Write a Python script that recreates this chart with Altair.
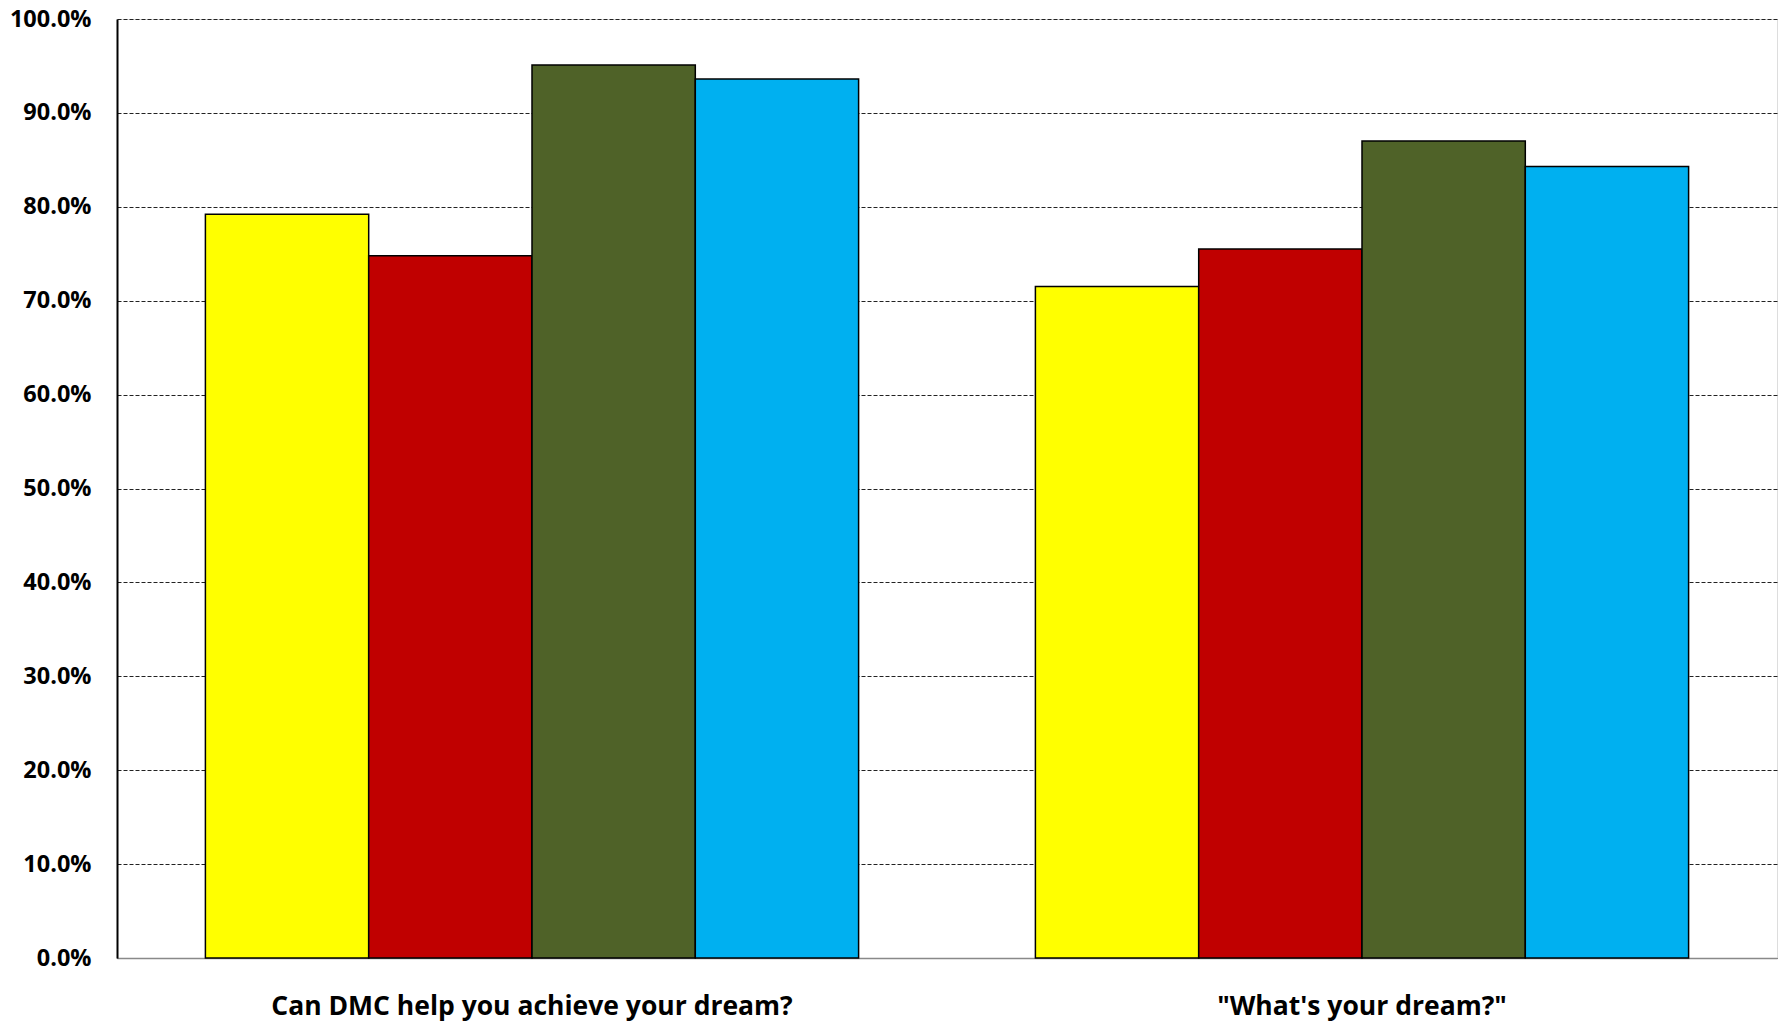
import altair as alt
import pandas as pd

questions = ["Can DMC help you achieve your dream?", "\"What's your dream?\""]
series = ["Series 1", "Series 2", "Series 3", "Series 4"]
colors = ["#FFFF00", "#C00000", "#4F6228", "#00B0F0"]
values = {
    "Series 1": [0.792, 0.715],
    "Series 2": [0.748, 0.755],
    "Series 3": [0.951, 0.870],
    "Series 4": [0.936, 0.843],
}

rows = []
for s in series:
    for q, v in zip(questions, values[s]):
        rows.append({"question": q, "series": s, "value": v})
df = pd.DataFrame(rows)

FONT = "Open Sans"

chart = alt.Chart(df).mark_bar(stroke="black", strokeWidth=1.5).encode(
    x=alt.X("question:N", sort=questions, title=None,
            scale=alt.Scale(paddingInner=0.213, paddingOuter=0.1065),
            axis=alt.Axis(labelAngle=0, ticks=False, labelFont=FONT, labelFontWeight="bold",
                          labelFontSize=26.5, labelColor="black", labelPadding=35, labelLimit=0,
                          domainColor="#898989", domainWidth=1.5, grid=False)),
    xOffset=alt.XOffset("series:N", sort=series),
    y=alt.Y("value:Q", title=None,
            scale=alt.Scale(domain=[0, 1], nice=False),
            axis=alt.Axis(format=".1%", values=[i / 10 for i in range(11)], ticks=False,
                          labelFont=FONT, labelFontWeight="bold", labelFontSize=23.5,
                          labelColor="black", labelPadding=26, labelLimit=0,
                          domainColor="black", domainWidth=2,
                          grid=True, gridColor="#222222", gridDash=[4, 2], gridWidth=1)),
    color=alt.Color("series:N", sort=series, scale=alt.Scale(domain=series, range=colors), legend=None),
).properties(
    width=1660, height=939,
    autosize=alt.AutoSizeParams(type="none"),
    padding={"left": 117, "top": 19, "right": 1, "bottom": 69},
).configure_view(stroke=None).configure(background="white")

chart.save("out.html", embed_options={"renderer": "svg", "actions": False})
